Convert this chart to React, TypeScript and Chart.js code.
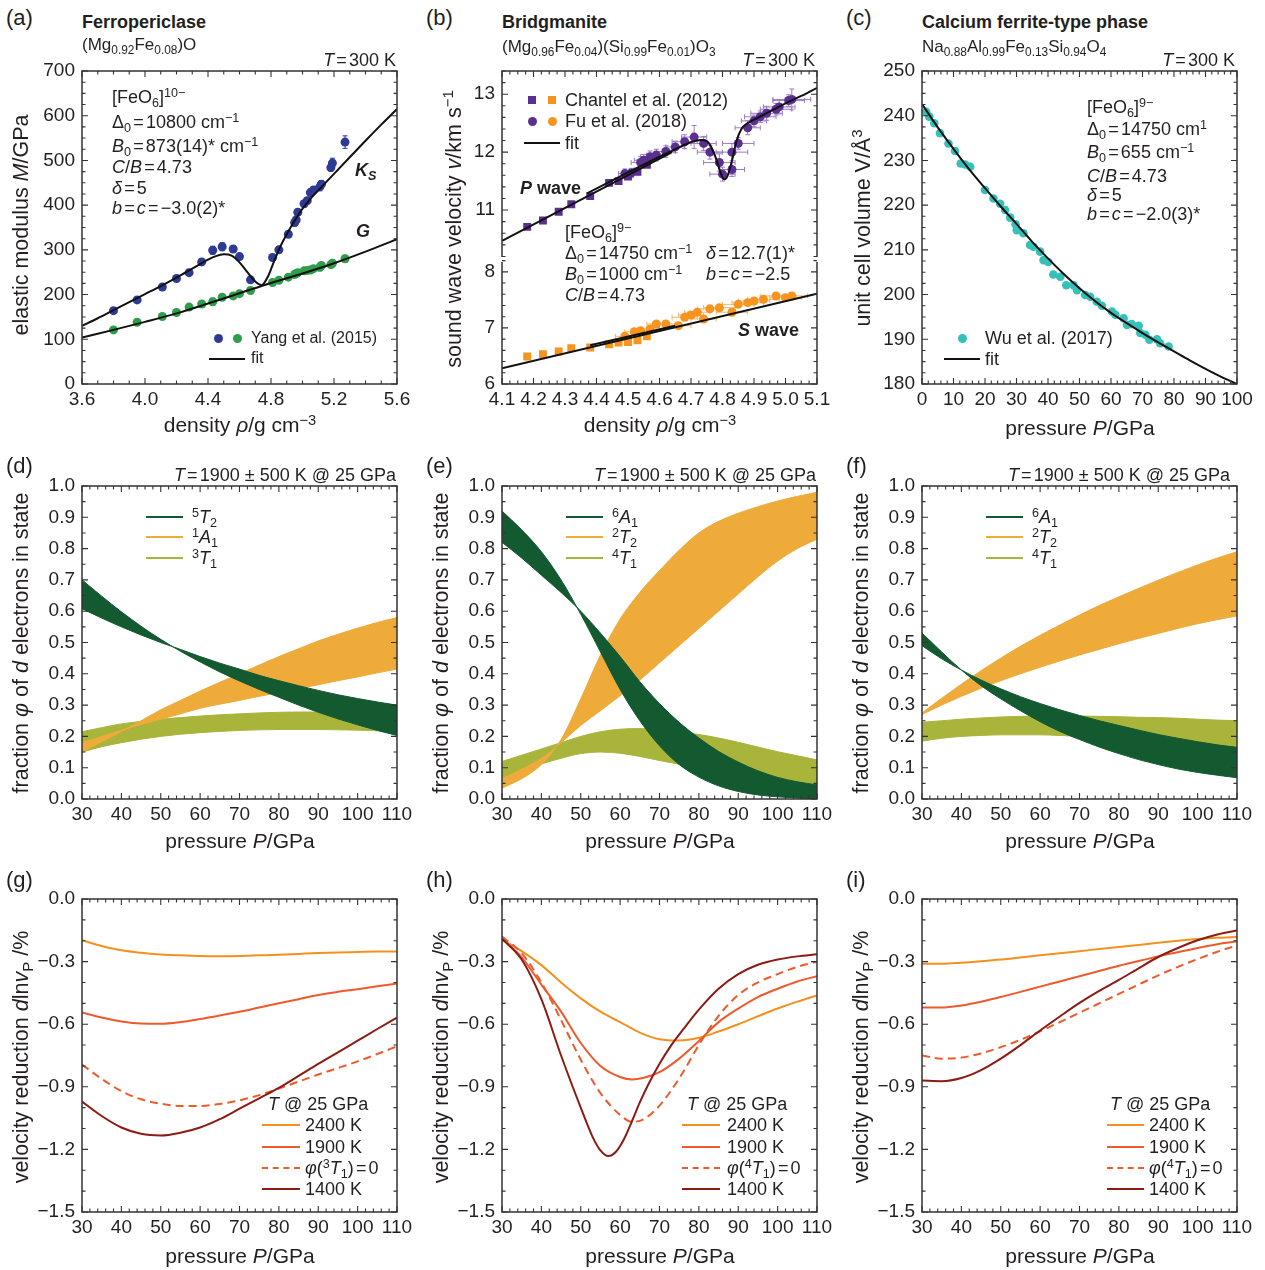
import React, { useEffect, useRef } from 'react';
import { Chart, registerables } from 'chart.js';

Chart.register(...registerables);

const FONT = '"Liberation Sans", Arial, Helvetica, sans-serif';
const INK = '#231f20';

// ---------------- (a) ferropericlase ----------------
const A_RHO = [3.80, 3.95, 4.11, 4.20, 4.28, 4.36, 4.43, 4.49, 4.56, 4.60, 4.67, 4.81, 4.85, 4.91, 4.95, 4.96, 4.97, 5.01, 5.03, 5.05, 5.07, 5.11, 5.12, 5.18, 5.19, 5.27];
const A_KS = [164, 188, 217, 236, 249, 273, 299, 307, 302, 285, 233, 283, 300, 335, 361, 367, 384, 403, 410, 428, 434, 441, 447, 484, 494, 541];
const A_KS_ERR = [5, 5, 6, 6, 6, 7, 9, 9, 7, 6, 5, 7, 6, 7, 8, 8, 7, 7, 7, 8, 7, 9, 8, 8, 11, 14];
const A_G = [121, 138, 151, 160, 172, 179, 184, 194, 197, 202, 209, 227, 232, 239, 245, 247, 249, 253, 254, 255, 258, 261, 265, 267, 270, 280];
const A_G_ERR = [4, 4, 5, 5, 5, 6, 8, 5, 5, 5, 4, 7, 5, 5, 6, 6, 5, 5, 5, 6, 5, 8, 7, 7, 8, 8];
const A_FIT_RHO_KS = [3.6, 3.7, 3.8, 3.9, 4.0, 4.1, 4.2, 4.3, 4.4, 4.45, 4.5, 4.55, 4.6, 4.65, 4.7, 4.74, 4.78, 4.82, 4.86, 4.9, 4.95, 5.0, 5.05, 5.1, 5.2, 5.3, 5.4, 5.5, 5.6];
const A_FIT_KS = [130, 147, 165, 183, 201, 219, 238, 258, 278, 286, 290, 287, 272, 250, 229, 221, 240, 275, 308, 335, 365, 392, 414, 433, 470, 507, 544, 580, 615];
const A_FIT_RHO_G = [3.6, 3.8, 4.0, 4.2, 4.4, 4.6, 4.8, 5.0, 5.2, 5.4, 5.6];
const A_FIT_G = [104, 121, 139, 158, 180, 203, 226, 247, 270, 296, 324];
const A_X_TICKS = [3.6, 4.0, 4.4, 4.8, 5.2, 5.6];
const A_Y_TICKS = [0, 100, 200, 300, 400, 500, 600, 700];

// ---------------- (b) bridgmanite ----------------
const B_CH_RHO = [4.18, 4.23, 4.28, 4.32, 4.38, 4.44, 4.47, 4.50, 4.53, 4.56];
const B_CH_VP = [10.71, 10.82, 10.97, 11.10, 11.24, 11.47, 11.50, 11.58, 11.66, 11.78];
const B_CH_VS = [6.49, 6.53, 6.58, 6.64, 6.65, 6.71, 6.74, 6.75, 6.78, 6.85];
const B_FU_RHO_P = [4.49, 4.51, 4.54, 4.55, 4.57, 4.59, 4.62, 4.65, 4.68, 4.71, 4.74, 4.76, 4.79, 4.80, 4.83, 4.83, 4.85, 4.88, 4.90, 4.92, 4.94, 4.97, 4.98, 5.01, 5.02];
const B_FU_VP = [11.63, 11.64, 11.82, 11.86, 11.92, 11.95, 12.01, 12.09, 12.18, 12.26, 12.15, 12.00, 11.82, 11.62, 11.70, 12.00, 12.15, 12.42, 12.54, 12.61, 12.67, 12.74, 12.78, 12.89, 12.91];
const B_FU_VP_ERR = [0.08, 0.08, 0.1, 0.1, 0.1, 0.1, 0.1, 0.1, 0.12, 0.2, 0.12, 0.12, 0.15, 0.12, 0.12, 0.15, 0.1, 0.12, 0.1, 0.1, 0.12, 0.1, 0.12, 0.1, 0.18];
const B_FU_RHO_P_ERR = [0.02, 0.02, 0.03, 0.03, 0.03, 0.03, 0.03, 0.03, 0.04, 0.04, 0.04, 0.04, 0.05, 0.04, 0.04, 0.05, 0.05, 0.04, 0.04, 0.05, 0.05, 0.05, 0.05, 0.05, 0.06];
const B_FU_RHO_S = [4.49, 4.52, 4.54, 4.57, 4.59, 4.62, 4.66, 4.68, 4.70, 4.72, 4.74, 4.76, 4.79, 4.83, 4.85, 4.88, 4.90, 4.93, 4.97, 5.00, 5.02];
const B_FU_VS = [6.85, 6.93, 6.95, 6.98, 7.07, 7.07, 7.04, 7.19, 7.23, 7.28, 7.16, 7.34, 7.36, 7.28, 7.42, 7.45, 7.48, 7.51, 7.57, 7.54, 7.57];
const B_FU_VS_ERR = [0.04, 0.04, 0.04, 0.04, 0.05, 0.04, 0.05, 0.05, 0.04, 0.05, 0.06, 0.05, 0.05, 0.06, 0.05, 0.05, 0.05, 0.05, 0.06, 0.05, 0.06];
const B_FU_RHO_S_ERR = [0.03, 0.03, 0.03, 0.03, 0.03, 0.03, 0.04, 0.04, 0.04, 0.04, 0.04, 0.04, 0.05, 0.05, 0.05, 0.05, 0.05, 0.05, 0.05, 0.05, 0.05];
const B_FIT1_RHO_P = [4.1, 4.64];
const B_FIT1_VP = [10.47, 12.0];
const B_FIT2_RHO_P = [4.37, 4.5, 4.6, 4.65, 4.7, 4.73, 4.75, 4.765, 4.78, 4.795, 4.805, 4.815, 4.83, 4.845, 4.86, 4.88, 4.9, 4.95, 5.0, 5.05, 5.1];
const B_FIT2_VP = [11.29, 11.65, 11.92, 12.05, 12.17, 12.21, 12.19, 12.08, 11.88, 11.63, 11.53, 11.58, 11.85, 12.20, 12.40, 12.50, 12.56, 12.70, 12.84, 12.97, 13.11];
const B_FIT1_RHO_S = [4.1, 5.1];
const B_FIT1_VS = [6.28, 7.61];
const B_FIT2_RHO_S = [4.38, 4.65];
const B_FIT2_VS = [6.69, 7.04];
const B_X_TICKS = [4.1, 4.2, 4.3, 4.4, 4.5, 4.6, 4.7, 4.8, 4.9, 5.0, 5.1];
const B_YU_TICKS = [11, 12, 13];
const B_YL_TICKS = [6, 7, 8];

// ---------------- (c) calcium ferrite-type phase ----------------
const C_P = [1.3, 2.3, 3.9, 5.7, 8.4, 10.5, 12.3, 13.7, 15.3, 20.0, 22.7, 24.8, 26.4, 28.0, 29.7, 30.1, 32.2, 34.3, 35.4, 37.5, 38.6, 40.1, 41.7, 43.9, 45.8, 48.1, 49.2, 51.8, 53.4, 55.5, 57.1, 60.3, 61.4, 64.0, 65.1, 66.6, 68.8, 69.3, 70.9, 72.2, 74.6, 75.6, 78.3];
const C_V = [240.9, 239.8, 238.3, 236.1, 233.8, 232.1, 229.3, 229.1, 228.6, 223.4, 221.5, 220.3, 218.9, 217.2, 215.7, 214.4, 213.7, 211.1, 210.7, 209.6, 207.7, 207.3, 204.5, 204.0, 202.1, 202.1, 201.0, 199.9, 199.5, 198.4, 197.5, 196.2, 195.5, 194.7, 193.2, 193.4, 193.0, 191.4, 191.0, 189.9, 190.0, 189.1, 188.4];
const C_FIT_P = [0, 5, 10, 15, 20, 25, 30, 35, 40, 45, 50, 55, 60, 65, 70, 75, 80, 85, 90, 95, 100];
const C_FIT_V = [242.6, 237.4, 232.6, 228.0, 223.8, 219.7, 215.8, 211.8, 208.1, 204.6, 201.4, 198.5, 195.9, 193.6, 191.4, 189.3, 187.3, 185.3, 183.4, 181.6, 180.0];
const C_X_TICKS = [0, 10, 20, 30, 40, 50, 60, 70, 80, 90, 100];
const C_Y_TICKS = [180, 190, 200, 210, 220, 230, 240, 250];

// ---------------- (d)-(f) fractions, edges of bands (1400 K / 2400 K) ----------------
const P_GRID = [30, 35, 40, 45, 50, 55, 60, 65, 70, 75, 80, 85, 90, 95, 100, 105, 110];
const P_TICKS = [30, 40, 50, 60, 70, 80, 90, 100, 110];
const F_TICKS = [0, 0.1, 0.2, 0.3, 0.4, 0.5, 0.6, 0.7, 0.8, 0.9, 1.0];

const D_5T2_A = [0.700, 0.648, 0.598, 0.552, 0.510, 0.472, 0.438, 0.406, 0.377, 0.350, 0.325, 0.300, 0.277, 0.256, 0.237, 0.219, 0.203];
const D_5T2_B = [0.608, 0.578, 0.550, 0.524, 0.500, 0.478, 0.455, 0.434, 0.415, 0.395, 0.378, 0.362, 0.347, 0.333, 0.321, 0.310, 0.300];
const D_1A1_A = [0.150, 0.183, 0.215, 0.250, 0.285, 0.315, 0.345, 0.373, 0.400, 0.428, 0.455, 0.480, 0.505, 0.526, 0.546, 0.564, 0.580];
const D_1A1_B = [0.180, 0.200, 0.220, 0.238, 0.255, 0.272, 0.290, 0.303, 0.315, 0.328, 0.340, 0.353, 0.365, 0.378, 0.390, 0.403, 0.415];
const D_3T1_A = [0.215, 0.228, 0.240, 0.248, 0.255, 0.260, 0.265, 0.269, 0.272, 0.275, 0.277, 0.278, 0.278, 0.276, 0.272, 0.267, 0.262];
const D_3T1_B = [0.150, 0.167, 0.180, 0.191, 0.200, 0.207, 0.212, 0.216, 0.219, 0.221, 0.222, 0.222, 0.222, 0.221, 0.220, 0.218, 0.215];

const E_6A1_A = [0.920, 0.860, 0.790, 0.700, 0.590, 0.470, 0.350, 0.250, 0.170, 0.110, 0.070, 0.042, 0.024, 0.013, 0.007, 0.003, 0.001];
const E_6A1_B = [0.820, 0.770, 0.715, 0.660, 0.600, 0.530, 0.455, 0.375, 0.305, 0.245, 0.195, 0.152, 0.118, 0.090, 0.069, 0.055, 0.045];
const E_2T2_A = [0.035, 0.065, 0.110, 0.190, 0.320, 0.460, 0.575, 0.660, 0.730, 0.795, 0.850, 0.887, 0.913, 0.934, 0.952, 0.967, 0.980];
const E_2T2_B = [0.065, 0.095, 0.130, 0.180, 0.235, 0.282, 0.330, 0.380, 0.435, 0.490, 0.545, 0.600, 0.655, 0.710, 0.760, 0.800, 0.830];
const E_4T1_A = [0.120, 0.140, 0.160, 0.180, 0.200, 0.215, 0.223, 0.225, 0.221, 0.215, 0.206, 0.195, 0.181, 0.166, 0.151, 0.138, 0.125];
const E_4T1_B = [0.065, 0.090, 0.112, 0.130, 0.145, 0.150, 0.146, 0.136, 0.123, 0.111, 0.100, 0.090, 0.080, 0.070, 0.060, 0.052, 0.045];

const F_6A1_A = [0.530, 0.470, 0.412, 0.362, 0.320, 0.282, 0.247, 0.216, 0.190, 0.166, 0.145, 0.126, 0.110, 0.096, 0.085, 0.076, 0.068];
const F_6A1_B = [0.490, 0.448, 0.412, 0.380, 0.352, 0.327, 0.305, 0.285, 0.267, 0.250, 0.235, 0.220, 0.206, 0.194, 0.183, 0.173, 0.165];
const F_2T2_A = [0.275, 0.322, 0.367, 0.410, 0.450, 0.488, 0.523, 0.556, 0.588, 0.618, 0.646, 0.673, 0.699, 0.724, 0.748, 0.770, 0.790];
const F_2T2_B = [0.270, 0.300, 0.328, 0.354, 0.378, 0.400, 0.421, 0.441, 0.460, 0.478, 0.496, 0.513, 0.529, 0.545, 0.560, 0.573, 0.585];
const F_4T1_A = [0.245, 0.250, 0.255, 0.259, 0.262, 0.264, 0.265, 0.265, 0.265, 0.264, 0.263, 0.261, 0.260, 0.258, 0.255, 0.252, 0.250];
const F_4T1_B = [0.185, 0.194, 0.200, 0.203, 0.205, 0.205, 0.205, 0.203, 0.200, 0.198, 0.195, 0.190, 0.185, 0.180, 0.175, 0.170, 0.165];

// ---------------- (g)-(i) velocity reduction ----------------
const V_TICKS = [-1.5, -1.2, -0.9, -0.6, -0.3, 0.0];

const G_2400 = [-0.198, -0.225, -0.246, -0.258, -0.266, -0.270, -0.273, -0.274, -0.273, -0.270, -0.267, -0.263, -0.259, -0.256, -0.254, -0.252, -0.251];
const G_1900 = [-0.544, -0.568, -0.587, -0.597, -0.598, -0.590, -0.575, -0.558, -0.540, -0.520, -0.500, -0.480, -0.460, -0.445, -0.432, -0.418, -0.405];
const G_PHI0 = [-0.794, -0.862, -0.921, -0.960, -0.981, -0.992, -0.992, -0.982, -0.965, -0.940, -0.908, -0.875, -0.841, -0.810, -0.778, -0.743, -0.706];
const G_1400 = [-0.971, -1.040, -1.095, -1.125, -1.133, -1.120, -1.095, -1.055, -1.005, -0.955, -0.905, -0.848, -0.790, -0.735, -0.679, -0.623, -0.568];

const H_2400 = [-0.195, -0.250, -0.317, -0.400, -0.476, -0.540, -0.590, -0.640, -0.672, -0.678, -0.665, -0.635, -0.600, -0.562, -0.525, -0.492, -0.462];
const H_P_1900 = [30, 35, 40, 45, 50, 55, 60, 63, 66, 70, 75, 80, 85, 90, 95, 100, 105, 110];
const H_1900 = [-0.19, -0.28, -0.41, -0.54, -0.69, -0.80, -0.853, -0.865, -0.857, -0.83, -0.765, -0.68, -0.59, -0.525, -0.47, -0.43, -0.395, -0.37];
const H_P_PHI0 = [30, 35, 40, 45, 50, 55, 60, 63, 66, 70, 75, 80, 85, 90, 95, 100, 105, 110];
const H_PHI0 = [-0.18, -0.26, -0.40, -0.58, -0.77, -0.93, -1.035, -1.068, -1.055, -0.99, -0.86, -0.70, -0.56, -0.46, -0.40, -0.36, -0.325, -0.30];
const H_P_1400 = [30, 35, 40, 45, 50, 53, 55, 57, 59, 61, 63, 65, 67, 70, 73, 76, 80, 85, 90, 95, 100, 105, 110];
const H_1400 = [-0.19, -0.29, -0.48, -0.75, -1.0, -1.14, -1.205, -1.232, -1.21, -1.15, -1.065, -0.975, -0.895, -0.79, -0.70, -0.625, -0.53, -0.43, -0.36, -0.315, -0.29, -0.275, -0.265];

const I_2400 = [-0.310, -0.310, -0.305, -0.298, -0.290, -0.280, -0.270, -0.260, -0.250, -0.240, -0.230, -0.220, -0.210, -0.200, -0.192, -0.186, -0.182];
const I_1900 = [-0.520, -0.520, -0.510, -0.492, -0.470, -0.445, -0.420, -0.395, -0.370, -0.345, -0.320, -0.297, -0.275, -0.255, -0.235, -0.217, -0.203];
const I_PHI0 = [-0.750, -0.765, -0.760, -0.740, -0.710, -0.675, -0.634, -0.590, -0.545, -0.500, -0.455, -0.410, -0.366, -0.325, -0.288, -0.253, -0.222];
const I_1400 = [-0.870, -0.873, -0.858, -0.820, -0.765, -0.700, -0.630, -0.563, -0.498, -0.440, -0.388, -0.332, -0.278, -0.235, -0.198, -0.170, -0.151];

// ---------------- colours ----------------
const BLUE = '#2e3a94';
const GREEN = '#2f9e4a';
const PURPLE = '#5b2f8f';
const PURPLE_ERR = '#9b7cc4';
const ORANGE = '#f7941d';
const ORANGE_ERR = '#f9b46c';
const CYAN = '#35c1b8';
const DKGREEN = '#135a30';
const BAND_OR = '#eeab3a';
const OLIVE = '#a9b43b';
const C2400 = '#f4911e';
const C1900 = '#ee5a2c';
const C1400 = '#8c1b13';

// ---------------- geometry ----------------
const PAD_L = 80, PAD_T = 20, PAD_R = 25, PAD_B = 45, PLOT_W = 315, PLOT_H = 313;
const COLS = [82, 502, 922];
const ROWS = [71, 486, 899];
const TICK_SIZE = 19;

// ---------------- plugins ----------------
const framePlugin = {
  id: 'frame',
  afterDatasetsDraw(chart: any, _a: any, opts: any) {
    const ctx = chart.ctx;
    const xs = chart.scales.x;
    const ids: string[] = opts.yIds || ['y'];
    const ys = ids.map((id) => chart.scales[id]);
    const top = Math.min(...ys.map((s: any) => s.top));
    const bottom = Math.max(...ys.map((s: any) => s.bottom));
    const L = xs.left, R = xs.right;
    ctx.save();
    ctx.strokeStyle = '#333333';
    ctx.lineWidth = 1.5;
    ctx.beginPath();
    ctx.moveTo(L - 0.75, top); ctx.lineTo(R + 0.75, top);
    ctx.moveTo(L - 0.75, bottom); ctx.lineTo(R + 0.75, bottom);
    const gap = ys.length > 1 ? 2.5 : 0;
    ys.forEach((s: any) => {
      const t = s.top + (s.top > top + 1 ? gap : 0);
      const b = s.bottom - (s.bottom < bottom - 1 ? gap : 0);
      ctx.moveTo(L, t); ctx.lineTo(L, b);
      ctx.moveTo(R, t); ctx.lineTo(R, b);
    });
    ctx.stroke();
    ctx.lineWidth = 1.1;
    ctx.beginPath();
    const MAJ = 6, MIN = 3.5;
    const xt = (v: number, len: number) => {
      const p = xs.getPixelForValue(v);
      ctx.moveTo(p, bottom); ctx.lineTo(p, bottom - len);
      ctx.moveTo(p, top); ctx.lineTo(p, top + len);
    };
    xs.ticks.forEach((t: any) => xt(t.value, MAJ));
    if (opts.xMinor) {
      const st = opts.xMinor;
      for (let k = Math.ceil(xs.min / st - 1e-6); k * st <= xs.max + 1e-9; k++) xt(k * st, MIN);
    }
    ys.forEach((s: any, i: number) => {
      const yt = (v: number, len: number) => {
        const p = s.getPixelForValue(v);
        if (p < s.top - 0.5 || p > s.bottom + 0.5) return;
        ctx.moveTo(L, p); ctx.lineTo(L + len, p);
        ctx.moveTo(R, p); ctx.lineTo(R - len, p);
      };
      s.ticks.forEach((t: any) => yt(t.value, MAJ));
      const st = (opts.yMinor || [])[i];
      if (st) {
        for (let k = Math.ceil(s.min / st - 1e-6); k * st <= s.max + 1e-9; k++) yt(k * st, MIN);
      }
    });
    ctx.stroke();
    ctx.restore();
  },
};

const errPlugin = {
  id: 'errbars',
  beforeDatasetDraw(chart: any, args: any) {
    const ds = chart.data.datasets[args.index];
    if (!ds.yErr && !ds.xErr) return;
    const meta = args.meta;
    const xs = meta.xScale, ys = meta.yScale;
    const ctx = chart.ctx;
    ctx.save();
    ctx.strokeStyle = ds.errColor || ds.backgroundColor;
    ctx.lineWidth = 1;
    ctx.beginPath();
    ds.data.forEach((d: any, i: number) => {
      const px = xs.getPixelForValue(d.x), py = ys.getPixelForValue(d.y);
      if (ds.yErr) {
        const e = ds.yErr[i];
        const y1 = ys.getPixelForValue(d.y + e), y2 = ys.getPixelForValue(d.y - e);
        ctx.moveTo(px, y1); ctx.lineTo(px, y2);
        ctx.moveTo(px - 2.5, y1); ctx.lineTo(px + 2.5, y1);
        ctx.moveTo(px - 2.5, y2); ctx.lineTo(px + 2.5, y2);
      }
      if (ds.xErr) {
        const e = ds.xErr[i];
        const x1 = xs.getPixelForValue(d.x - e), x2 = xs.getPixelForValue(d.x + e);
        ctx.moveTo(x1, py); ctx.lineTo(x2, py);
        ctx.moveTo(x1, py - 2.5); ctx.lineTo(x1, py + 2.5);
        ctx.moveTo(x2, py - 2.5); ctx.lineTo(x2, py + 2.5);
      }
    });
    ctx.stroke();
    ctx.restore();
  },
};

Chart.register(framePlugin as any, errPlugin as any);

// ---------------- helpers ----------------
const pts = (xs: number[], ys: number[]) => xs.map((x, i) => ({ x, y: ys[i] }));
const fmt = (dec: number) => (v: any) => Number(v).toFixed(dec).replace('-', '\u2212');

function xScale(min: number, max: number, ticks: number[], dec: number) {
  return {
    type: 'linear', position: 'bottom', min, max,
    grid: { display: false, drawTicks: false }, border: { display: false },
    ticks: { font: { family: FONT, size: TICK_SIZE }, color: INK, padding: 4, maxRotation: 0, autoSkip: false, callback: fmt(dec) },
    afterBuildTicks: (s: any) => { s.ticks = ticks.map((v) => ({ value: v })); },
    afterFit: (s: any) => { s.height = PAD_B; },
  };
}
function yScale(min: number, max: number, ticks: number[], dec: number, extra: any = {}) {
  return {
    type: 'linear', position: 'left', min, max,
    grid: { display: false, drawTicks: false }, border: { display: false },
    ticks: { font: { family: FONT, size: TICK_SIZE }, color: INK, padding: 7, autoSkip: false, callback: fmt(dec) },
    afterBuildTicks: (s: any) => { s.ticks = ticks.map((v) => ({ value: v })); },
    afterFit: (s: any) => { s.width = PAD_L; },
    ...extra,
  };
}
const curve = (xs: number[], ys: number[], color: string, extra: any = {}) => ({
  data: pts(xs, ys), showLine: true, borderColor: color, backgroundColor: color, borderWidth: 2,
  pointRadius: 0, fill: false, cubicInterpolationMode: 'monotone', ...extra,
});
const dots = (xs: number[], ys: number[], color: string, r: number, extra: any = {}) => ({
  data: pts(xs, ys), showLine: false, borderColor: color, backgroundColor: color, borderWidth: 0,
  pointRadius: r, pointHoverRadius: r, ...extra,
});
const band = (xs: number[], a: number[], b: number[], color: string) => [
  { data: pts(xs, a), showLine: true, borderColor: color, backgroundColor: color, borderWidth: 1, pointRadius: 0, fill: '+1', cubicInterpolationMode: 'monotone' },
  { data: pts(xs, b), showLine: true, borderColor: color, backgroundColor: color, borderWidth: 1, pointRadius: 0, fill: false, cubicInterpolationMode: 'monotone' },
];
function cfg(datasets: any[], scales: any, frame: any) {
  return {
    type: 'line',
    data: { datasets },
    options: {
      responsive: false, animation: false, events: [],
      layout: { padding: { top: PAD_T, right: PAD_R, left: 0, bottom: 0 } },
      plugins: { legend: { display: false }, tooltip: { enabled: false }, frame },
      scales,
    },
  };
}

// ---------------- chart configs ----------------
const buildA = () => cfg([
  curve(A_FIT_RHO_KS, A_FIT_KS, '#111'),
  curve(A_FIT_RHO_G, A_FIT_G, '#111'),
  dots(A_RHO, A_KS, BLUE, 4.5, { yErr: A_KS_ERR, errColor: BLUE }),
  dots(A_RHO, A_G, GREEN, 4.5, { yErr: A_G_ERR, errColor: GREEN }),
], { x: xScale(3.6, 5.6, A_X_TICKS, 1), y: yScale(0, 700, A_Y_TICKS, 0) }, { yIds: ['y'], xMinor: 0.1, yMinor: [25] });

const buildB = () => cfg([
  curve(B_FIT2_RHO_P, B_FIT2_VP, '#111', { yAxisID: 'yU' }),
  curve(B_FIT1_RHO_P, B_FIT1_VP, '#111', { yAxisID: 'yU', cubicInterpolationMode: 'default' }),
  curve(B_FIT1_RHO_S, B_FIT1_VS, '#111', { yAxisID: 'yL', cubicInterpolationMode: 'default' }),
  curve(B_FIT2_RHO_S, B_FIT2_VS, '#111', { yAxisID: 'yL', cubicInterpolationMode: 'default' }),
  dots(B_CH_RHO, B_CH_VP, PURPLE, 5.6, { yAxisID: 'yU', pointStyle: 'rect' }),
  dots(B_FU_RHO_P, B_FU_VP, PURPLE, 4.5, { yAxisID: 'yU', yErr: B_FU_VP_ERR, xErr: B_FU_RHO_P_ERR, errColor: PURPLE_ERR }),
  dots(B_CH_RHO, B_CH_VS, ORANGE, 5.6, { yAxisID: 'yL', pointStyle: 'rect' }),
  dots(B_FU_RHO_S, B_FU_VS, ORANGE, 4.5, { yAxisID: 'yL', yErr: B_FU_VS_ERR, xErr: B_FU_RHO_S_ERR, errColor: ORANGE_ERR }),
], {
  x: xScale(4.1, 5.1, B_X_TICKS, 1),
  yL: yScale(6, 8.22, B_YL_TICKS, 0, { stack: 'v', stackWeight: 124.5 }),
  yU: yScale(10.147, 13.40, B_YU_TICKS, 0, { stack: 'v', stackWeight: 188.5 }),
}, { yIds: ['yU', 'yL'], xMinor: 0.025, yMinor: [0.2, 0.2] });

const buildC = () => cfg([
  curve(C_FIT_P, C_FIT_V, '#111'),
  dots(C_P, C_V, CYAN, 4.3),
], { x: xScale(0, 100, C_X_TICKS, 0), y: yScale(180, 250, C_Y_TICKS, 0) }, { yIds: ['y'], xMinor: 2, yMinor: [2.5] });

const fracCfg = (g: [number[], number[]], o: [number[], number[]], l: [number[], number[]]) => () => cfg([
  ...band(P_GRID, g[0], g[1], DKGREEN),
  ...band(P_GRID, o[0], o[1], BAND_OR),
  ...band(P_GRID, l[0], l[1], OLIVE),
], { x: xScale(30, 110, P_TICKS, 0), y: yScale(0, 1, F_TICKS, 1) }, { yIds: ['y'], xMinor: 2, yMinor: [0.05] });

const buildD = fracCfg([D_5T2_A, D_5T2_B], [D_1A1_A, D_1A1_B], [D_3T1_A, D_3T1_B]);
const buildE = fracCfg([E_6A1_A, E_6A1_B], [E_2T2_A, E_2T2_B], [E_4T1_A, E_4T1_B]);
const buildF = fracCfg([F_6A1_A, F_6A1_B], [F_2T2_A, F_2T2_B], [F_4T1_A, F_4T1_B]);

const velScales = () => ({ x: xScale(30, 110, P_TICKS, 0), y: yScale(-1.5, 0, V_TICKS, 1) });
const velFrame = { yIds: ['y'], xMinor: 2, yMinor: [0.1] };
const dash = { borderDash: [8, 5] };

const buildG = () => cfg([
  curve(P_GRID, G_1400, C1400),
  curve(P_GRID, G_PHI0, C1900, dash),
  curve(P_GRID, G_1900, C1900),
  curve(P_GRID, G_2400, C2400),
], velScales(), velFrame);
const buildH = () => cfg([
  curve(H_P_1400, H_1400, C1400),
  curve(H_P_PHI0, H_PHI0, C1900, dash),
  curve(H_P_1900, H_1900, C1900),
  curve(P_GRID, H_2400, C2400),
], velScales(), velFrame);
const buildI = () => cfg([
  curve(P_GRID, I_1400, C1400),
  curve(P_GRID, I_PHI0, C1900, dash),
  curve(P_GRID, I_1900, C1900),
  curve(P_GRID, I_2400, C2400),
], velScales(), velFrame);

// ---------------- components ----------------
function ChartPanel({ plotL, plotT, build }: { plotL: number; plotT: number; build: () => any }) {
  const ref = useRef<HTMLCanvasElement>(null);
  useEffect(() => {
    const ch = new Chart(ref.current as HTMLCanvasElement, build());
    return () => ch.destroy();
  }, []);
  const W = PAD_L + PLOT_W + PAD_R, H = PAD_T + PLOT_H + PAD_B;
  return <canvas ref={ref} width={W} height={H} style={{ position: 'absolute', left: plotL - PAD_L, top: plotT - PAD_T, width: W, height: H }} />;
}

const Sub = ({ children }: any) => <span style={{ fontSize: '0.7em', position: 'relative', top: '0.33em' }}>{children}</span>;
const Sup = ({ children }: any) => <span style={{ fontSize: '0.7em', position: 'relative', top: '-0.5em' }}>{children}</span>;
const I = ({ children }: any) => <span style={{ fontStyle: 'italic' }}>{children}</span>;
const Eq = () => <span style={{ margin: '0 0.12em' }}>=</span>;

function Txt({ x, y, size = 18, align = 'left', bold = false, children }: any) {
  const tx = align === 'left' ? '0' : align === 'right' ? '-100%' : '-50%';
  return (
    <div style={{ position: 'absolute', left: x, top: y, transform: `translate(${tx}, -50%)`, fontSize: size, fontWeight: bold ? 700 : 400, whiteSpace: 'nowrap', lineHeight: 1, fontFamily: FONT, color: INK }}>
      {children}
    </div>
  );
}
function VTxt({ x, y, size = 21.5, children }: any) {
  return (
    <div style={{ position: 'absolute', left: x, top: y, transform: 'translate(-50%, -50%) rotate(-90deg)', fontSize: size, whiteSpace: 'nowrap', lineHeight: 1, fontFamily: FONT, color: INK }}>
      {children}
    </div>
  );
}
function HLine({ x1, x2, y, color, dashed = false, w = 2 }: any) {
  return <div style={{ position: 'absolute', left: x1, top: y - w / 2, width: x2 - x1, height: 0, borderTop: `${w}px ${dashed ? 'dashed' : 'solid'} ${color}` }} />;
}
function Dot({ x, y, r, color, square = false }: any) {
  return <div style={{ position: 'absolute', left: x - r, top: y - r, width: 2 * r, height: 2 * r, borderRadius: square ? 0 : '50%', background: color }} />;
}

const TempTitle = ({ right, y }: any) => (
  <Txt x={right} y={y} align="right"><I>T</I><Eq />1900 ± 500 K @ 25 GPa</Txt>
);

function FracLegend({ dx, labels }: any) {
  const cols = [DKGREEN, BAND_OR, OLIVE];
  const ys = [517, 537, 558];
  return (
    <>
      {labels.map((l: any, i: number) => (
        <React.Fragment key={i}>
          <HLine x1={146 + dx} x2={183 + dx} y={ys[i]} color={cols[i]} w={2.5} />
          <Txt x={192 + dx} y={ys[i]}>{l}</Txt>
        </React.Fragment>
      ))}
    </>
  );
}
function VelLegend({ hx, lx1, lx2, tx, state }: any) {
  const ys = [1125, 1147, 1168, 1189];
  return (
    <>
      <Txt x={hx} y={1104}><I>T</I> @ 25 GPa</Txt>
      <HLine x1={lx1} x2={lx2} y={ys[0]} color={C2400} />
      <Txt x={tx} y={ys[0]}>2400 K</Txt>
      <HLine x1={lx1} x2={lx2} y={ys[1]} color={C1900} />
      <Txt x={tx} y={ys[1]}>1900 K</Txt>
      <HLine x1={lx1} x2={lx2} y={ys[2]} color={C1900} dashed />
      <Txt x={tx} y={ys[2]}><I>φ</I>({state})<Eq />0</Txt>
      <HLine x1={lx1} x2={lx2} y={ys[3]} color={C1400} />
      <Txt x={tx} y={ys[3]}>1400 K</Txt>
    </>
  );
}

const PTitle = () => <>pressure <I>P</I>/GPa</>;
const FracTitle = () => <>fraction <I>φ</I> of <I>d</I> electrons in state</>;
const VelTitle = () => <>velocity reduction <I>d</I>ln<I>v</I><Sub>P</Sub> /%</>;

export default function App() {
  return (
    <div style={{ position: 'absolute', left: 0, top: 0, width: 1265, height: 1270, background: '#fff', fontFamily: FONT, overflow: 'hidden' }}>
      <ChartPanel plotL={COLS[0]} plotT={ROWS[0]} build={buildA} />
      <ChartPanel plotL={COLS[1]} plotT={ROWS[0]} build={buildB} />
      <ChartPanel plotL={COLS[2]} plotT={ROWS[0]} build={buildC} />
      <ChartPanel plotL={COLS[0]} plotT={ROWS[1]} build={buildD} />
      <ChartPanel plotL={COLS[1]} plotT={ROWS[1]} build={buildE} />
      <ChartPanel plotL={COLS[2]} plotT={ROWS[1]} build={buildF} />
      <ChartPanel plotL={COLS[0]} plotT={ROWS[2]} build={buildG} />
      <ChartPanel plotL={COLS[1]} plotT={ROWS[2]} build={buildH} />
      <ChartPanel plotL={COLS[2]} plotT={ROWS[2]} build={buildI} />

      {/* ---- (a) ---- */}
      <Txt x={6} y={18} size={22}>(a)</Txt>
      <Txt x={82} y={22} bold>Ferropericlase</Txt>
      <Txt x={82} y={44} size={17}>(Mg<Sub>0.92</Sub>Fe<Sub>0.08</Sub>)O</Txt>
      <Txt x={396} y={60} align="right"><I>T</I><Eq />300 K</Txt>
      <Txt x={112} y={97}>[FeO<Sub>6</Sub>]<Sup>10−</Sup></Txt>
      <Txt x={112} y={122}>Δ<Sub>0</Sub><Eq />10800 cm<Sup>−1</Sup></Txt>
      <Txt x={112} y={146}><I>B</I><Sub>0</Sub><Eq />873(14)* cm<Sup>−1</Sup></Txt>
      <Txt x={112} y={167}><I>C</I>/<I>B</I><Eq />4.73</Txt>
      <Txt x={112} y={188}><I>δ</I><Eq />5</Txt>
      <Txt x={112} y={208}><I>b</I><Eq /><I>c</I><Eq />−3.0(2)*</Txt>
      <Txt x={355} y={170} bold><I>K<Sub>S</Sub></I></Txt>
      <Txt x={356} y={231} bold><I>G</I></Txt>
      <Dot x={218} y={338} r={4.5} color={BLUE} />
      <Dot x={237} y={338} r={4.5} color={GREEN} />
      <Txt x={251} y={338} size={16}>Yang et al. (2015)</Txt>
      <HLine x1={209} x2={245} y={359} color="#111" />
      <Txt x={251} y={358} size={16}>fit</Txt>
      <VTxt x={22} y={225}>elastic modulus <I>M</I>/GPa</VTxt>
      <Txt x={240} y={424} size={21} align="center">density <I>ρ</I>/g cm<Sup>−3</Sup></Txt>

      {/* ---- (b) ---- */}
      <Txt x={426} y={18} size={22}>(b)</Txt>
      <Txt x={502} y={22} bold>Bridgmanite</Txt>
      <Txt x={502} y={46} size={17}>(Mg<Sub>0.96</Sub>Fe<Sub>0.04</Sub>)(Si<Sub>0.99</Sub>Fe<Sub>0.01</Sub>)O<Sub>3</Sub></Txt>
      <Txt x={815} y={60} align="right"><I>T</I><Eq />300 K</Txt>
      <Dot x={532} y={100} r={4} color={PURPLE} square />
      <Dot x={552} y={100} r={4} color={ORANGE} square />
      <Txt x={565} y={100}>Chantel et al. (2012)</Txt>
      <Dot x={532} y={121} r={4.5} color={PURPLE} />
      <Dot x={552} y={121} r={4.5} color={ORANGE} />
      <Txt x={565} y={121}>Fu et al. (2018)</Txt>
      <HLine x1={524} x2={560} y={143} color="#111" />
      <Txt x={565} y={143}>fit</Txt>
      <Txt x={520} y={188} bold><I>P</I> wave</Txt>
      <Txt x={565} y={232}>[FeO<Sub>6</Sub>]<Sup>9−</Sup></Txt>
      <Txt x={565} y={253}>Δ<Sub>0</Sub><Eq />14750 cm<Sup>−1</Sup></Txt>
      <Txt x={706} y={253}><I>δ</I><Eq />12.7(1)*</Txt>
      <Txt x={565} y={274}><I>B</I><Sub>0</Sub><Eq />1000 cm<Sup>−1</Sup></Txt>
      <Txt x={706} y={274}><I>b</I><Eq /><I>c</I><Eq />−2.5</Txt>
      <Txt x={565} y={295}><I>C</I>/<I>B</I><Eq />4.73</Txt>
      <Txt x={738} y={330} bold><I>S</I> wave</Txt>
      <VTxt x={455} y={229}>sound wave velocity <I>v</I>/km s<Sup>−1</Sup></VTxt>
      <Txt x={660} y={424} size={21} align="center">density <I>ρ</I>/g cm<Sup>−3</Sup></Txt>

      {/* ---- (c) ---- */}
      <Txt x={846} y={18} size={22}>(c)</Txt>
      <Txt x={922} y={22} bold>Calcium ferrite-type phase</Txt>
      <Txt x={922} y={46} size={17}>Na<Sub>0.88</Sub>Al<Sub>0.99</Sub>Fe<Sub>0.13</Sub>Si<Sub>0.94</Sub>O<Sub>4</Sub></Txt>
      <Txt x={1235} y={60} align="right"><I>T</I><Eq />300 K</Txt>
      <Txt x={1087} y={107}>[FeO<Sub>6</Sub>]<Sup>9−</Sup></Txt>
      <Txt x={1087} y={129}>Δ<Sub>0</Sub><Eq />14750 cm<Sup>1</Sup></Txt>
      <Txt x={1087} y={152}><I>B</I><Sub>0</Sub><Eq />655 cm<Sup>−1</Sup></Txt>
      <Txt x={1087} y={176}><I>C</I>/<I>B</I><Eq />4.73</Txt>
      <Txt x={1087} y={195}><I>δ</I><Eq />5</Txt>
      <Txt x={1087} y={214}><I>b</I><Eq /><I>c</I><Eq />−2.0(3)*</Txt>
      <Dot x={962} y={338} r={4.5} color={CYAN} />
      <Txt x={985} y={338}>Wu et al. (2017)</Txt>
      <HLine x1={944} x2={980} y={359} color="#111" />
      <Txt x={985} y={359}>fit</Txt>
      <VTxt x={864} y={228}>unit cell volume V/Å<Sup>3</Sup></VTxt>
      <Txt x={1080} y={427} size={21} align="center"><PTitle /></Txt>

      {/* ---- (d)-(f) ---- */}
      <Txt x={6} y={466} size={22}>(d)</Txt>
      <Txt x={426} y={466} size={22}>(e)</Txt>
      <Txt x={846} y={466} size={22}>(f)</Txt>
      <TempTitle right={396} y={475} />
      <TempTitle right={816} y={475} />
      <TempTitle right={1230} y={475} />
      <FracLegend dx={0} labels={[<><Sup>5</Sup><I>T</I><Sub>2</Sub></>, <><Sup>1</Sup><I>A</I><Sub>1</Sub></>, <><Sup>3</Sup><I>T</I><Sub>1</Sub></>]} />
      <FracLegend dx={420} labels={[<><Sup>6</Sup><I>A</I><Sub>1</Sub></>, <><Sup>2</Sup><I>T</I><Sub>2</Sub></>, <><Sup>4</Sup><I>T</I><Sub>1</Sub></>]} />
      <FracLegend dx={840} labels={[<><Sup>6</Sup><I>A</I><Sub>1</Sub></>, <><Sup>2</Sup><I>T</I><Sub>2</Sub></>, <><Sup>4</Sup><I>T</I><Sub>1</Sub></>]} />
      <VTxt x={22} y={643}><FracTitle /></VTxt>
      <VTxt x={442} y={643}><FracTitle /></VTxt>
      <VTxt x={862} y={643}><FracTitle /></VTxt>
      <Txt x={240} y={840} size={21} align="center"><PTitle /></Txt>
      <Txt x={660} y={840} size={21} align="center"><PTitle /></Txt>
      <Txt x={1080} y={840} size={21} align="center"><PTitle /></Txt>

      {/* ---- (g)-(i) ---- */}
      <Txt x={6} y={880} size={22}>(g)</Txt>
      <Txt x={426} y={880} size={22}>(h)</Txt>
      <Txt x={846} y={880} size={22}>(i)</Txt>
      <VelLegend hx={268} lx1={262} lx2={300} tx={305} state={<><Sup>3</Sup><I>T</I><Sub>1</Sub></>} />
      <VelLegend hx={687} lx1={682} lx2={720} tx={727} state={<><Sup>4</Sup><I>T</I><Sub>1</Sub></>} />
      <VelLegend hx={1110} lx1={1107} lx2={1144} tx={1149} state={<><Sup>4</Sup><I>T</I><Sub>1</Sub></>} />
      <VTxt x={22} y={1057}><VelTitle /></VTxt>
      <VTxt x={442} y={1057}><VelTitle /></VTxt>
      <VTxt x={862} y={1057}><VelTitle /></VTxt>
      <Txt x={240} y={1255} size={21} align="center"><PTitle /></Txt>
      <Txt x={660} y={1255} size={21} align="center"><PTitle /></Txt>
      <Txt x={1080} y={1255} size={21} align="center"><PTitle /></Txt>
    </div>
  );
}
